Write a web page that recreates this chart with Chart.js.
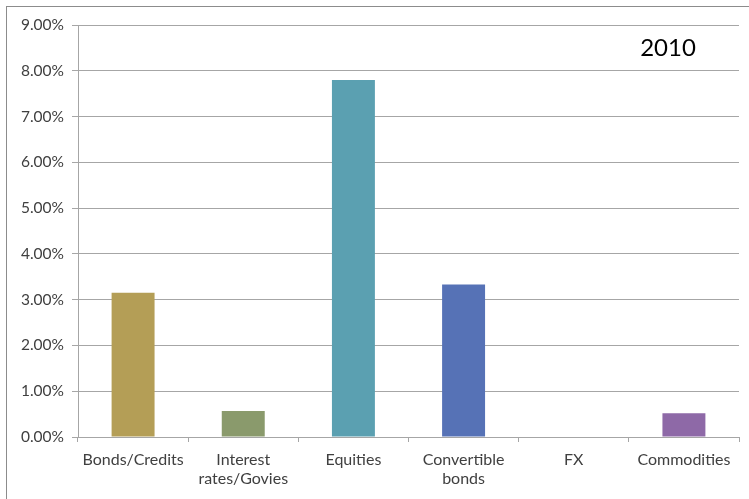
<!DOCTYPE html>
<html>
<head>
<meta charset="utf-8">
<script src="https://cdn.jsdelivr.net/npm/chart.js@4.4.0/dist/chart.umd.min.js"></script>
<style>
html,body{margin:0;padding:0;background:#fff;}
#wrap{width:749px;height:499px;position:relative;}
</style>
</head>
<body>
<div id="wrap"><canvas id="c" width="749" height="499"></canvas></div>
<script>
const categories = [["Bonds/Credits"], ["Interest", "rates/Govies"], ["Equities"], ["Convertible", "bonds"], ["FX"], ["Commodities"]];
const values = [0.0315, 0.0057, 0.078, 0.0333, 0, 0.0052];
const barColors = ["#B49E56", "#8A9A6C", "#5BA0B1", "#5672B6", "#8D9BC4", "#8E69A7"];
const yTicks = [0, 0.01, 0.02, 0.03, 0.04, 0.05, 0.06, 0.07, 0.08, 0.09];
const yearLabel = "2010";

const FONT = "Lato, 'Open Sans', sans-serif";

const framePlugin = {
  id: 'frame',
  beforeDraw(chart) {
    const ctx = chart.ctx;
    ctx.save();
    ctx.fillStyle = '#fff';
    ctx.fillRect(0, 0, chart.width, chart.height);
    ctx.strokeStyle = '#8c8c8c';
    ctx.lineWidth = 1;
    ctx.strokeRect(6.5, 6.5, chart.width + 20, chart.height + 20);
    ctx.restore();
  },
  afterDraw(chart) {
    const ctx = chart.ctx;
    const a = chart.chartArea;
    ctx.save();
    ctx.fillStyle = '#000';
    ctx.font = "24px " + FONT;
    ctx.textAlign = 'center';
    ctx.textBaseline = 'middle';
    ctx.fillText(yearLabel, a.right - 71, a.top + 23);
    ctx.restore();
  }
};

new Chart(document.getElementById('c'), {
  type: 'bar',
  data: {
    labels: categories,
    datasets: [{
      data: values,
      backgroundColor: barColors,
      categoryPercentage: 1,
      barPercentage: 0.39
    }]
  },
  options: {
    responsive: false,
    animation: false,
    events: [],
    layout: { padding: { left: 0, top: 25, right: 10, bottom: 0 } },
    plugins: { legend: { display: false }, tooltip: { enabled: false }, title: { display: false } },
    scales: {
      x: {
        offset: true,
        grid: { offset: true, drawOnChartArea: false, drawTicks: true, tickLength: 5, color: '#a6a6a6' },
        border: { display: true, color: '#a6a6a6' },
        ticks: { color: '#404040', font: { family: FONT, size: 16, lineHeight: 1.2 }, padding: 8, maxRotation: 0, autoSkip: false },
        afterFit(s) { s.height = 62; }
      },
      y: {
        min: 0, max: 0.09,
        afterBuildTicks(s) { s.ticks = yTicks.map(v => ({ value: v })); },
        grid: { color: '#a6a6a6', tickLength: 6, drawTicks: true },
        border: { display: true, color: '#a6a6a6' },
        ticks: {
          color: '#404040', font: { family: FONT, size: 15.5 }, padding: 8,
          callback: v => (v * 100).toFixed(2) + '%'
        },
        afterFit(s) { s.width = 78; }
      }
    }
  },
  plugins: [framePlugin]
});
</script>
</body>
</html>
